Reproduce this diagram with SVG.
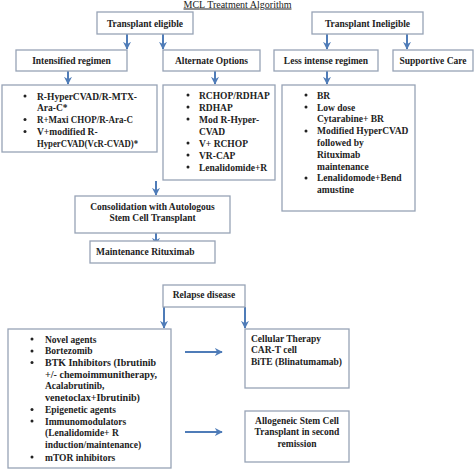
<svg xmlns="http://www.w3.org/2000/svg" width="474" height="470" viewBox="0 0 474 470">
<defs>
<marker id="ah" viewBox="0 0 10 10" refX="9" refY="5" markerWidth="4" markerHeight="4" orient="auto" markerUnits="strokeWidth">
<path d="M0,0 L10,5 L0,10 L3,5 Z" fill="#4f7cb8"/>
</marker>
<style>
.b{fill:#fff;stroke:#97a3b6;stroke-width:1.3}
.t{font-family:"Liberation Serif","DejaVu Serif",serif;font-weight:bold;font-size:9.5px;fill:#222}
.c{text-anchor:middle}
.d{fill:#222}
.a{fill:none;stroke:#4f7cb8;stroke-width:2;marker-end:url(#ah)}
</style>
</defs>
<rect width="474" height="470" fill="#fff"/>
<text x="237.5" y="7.5" font-family="Liberation Serif, serif" font-size="10" text-anchor="middle" fill="#222" text-decoration="underline">MCL Treatment Algorithm</text>

<g id="connectors">
<line class="a" x1="127" y1="34" x2="127" y2="49"/>
<line class="a" x1="163" y1="34" x2="163" y2="49"/>
<line class="a" x1="327" y1="34" x2="327" y2="49"/>
<line class="a" x1="407" y1="34" x2="407" y2="49"/>
<line class="a" x1="68" y1="71" x2="68" y2="84"/>
<line class="a" x1="215" y1="71" x2="215" y2="84"/>
<line class="a" x1="327" y1="71" x2="327" y2="84"/>
<line class="a" x1="156" y1="181" x2="156" y2="195"/>
<line class="a" x1="156" y1="233" x2="156" y2="245"/>
<line class="a" x1="164" y1="307" x2="164" y2="328"/>
<line class="a" x1="245" y1="307" x2="245" y2="328"/>
<line class="a" x1="185" y1="352" x2="222" y2="352"/>
<line class="a" x1="185" y1="432" x2="222" y2="432"/>
</g>

<g id="transplant-eligible">
<rect class="b" x="97" y="12" width="96" height="22"/>
<text class="t c" x="145" y="26.5">Transplant eligible</text>
</g>
<g id="transplant-ineligible">
<rect class="b" x="312" y="12" width="111" height="22"/>
<text class="t c" x="367.5" y="26.5">Transplant Ineligible</text>
</g>
<g id="intensified">
<rect class="b" x="16" y="50" width="111" height="21"/>
<text class="t c" x="71.5" y="64">Intensified regimen</text>
</g>
<g id="alternate">
<rect class="b" x="163" y="50" width="97" height="21"/>
<text class="t c" x="211.5" y="64">Alternate Options</text>
</g>
<g id="less-intense">
<rect class="b" x="274" y="50" width="104" height="21"/>
<text class="t c" x="326" y="64">Less intense regimen</text>
</g>
<g id="supportive">
<rect class="b" x="393" y="50" width="80" height="21"/>
<text class="t c" x="433" y="64">Supportive Care</text>
</g>

<g id="intensified-list">
<rect class="b" x="2" y="85" width="155" height="67"/>
<circle class="d" cx="25" cy="96" r="1.5"/>
<circle class="d" cx="25" cy="119.5" r="1.5"/>
<circle class="d" cx="25" cy="131.5" r="1.5"/>
<text class="t" x="37" y="99.5" textLength="100" lengthAdjust="spacingAndGlyphs">R-HyperCVAD/R-MTX-</text>
<text class="t" x="37" y="111.3">Ara-C*</text>
<text class="t" x="37" y="123" textLength="96" lengthAdjust="spacingAndGlyphs">R+Maxi CHOP/R-Ara-C</text>
<text class="t" x="37" y="135">V+modified R-</text>
<text class="t" x="37" y="146.8" textLength="101" lengthAdjust="spacingAndGlyphs">HyperCVAD(VcR-CVAD)*</text>
</g>

<g id="alternate-list">
<rect class="b" x="163" y="85" width="112" height="95"/>
<circle class="d" cx="188" cy="95" r="1.5"/>
<circle class="d" cx="188" cy="107" r="1.5"/>
<circle class="d" cx="188" cy="119" r="1.5"/>
<circle class="d" cx="188" cy="143" r="1.5"/>
<circle class="d" cx="188" cy="155" r="1.5"/>
<circle class="d" cx="188" cy="167" r="1.5"/>
<text class="t" x="199" y="98.5">RCHOP/RDHAP</text>
<text class="t" x="199" y="110.5">RDHAP</text>
<text class="t" x="199" y="122.5">Mod R-Hyper-</text>
<text class="t" x="199" y="134.5">CVAD</text>
<text class="t" x="199" y="146.5">V+ RCHOP</text>
<text class="t" x="199" y="158.5">VR-CAP</text>
<text class="t" x="199" y="170.5">Lenalidomide+R</text>
</g>

<g id="less-intense-list">
<rect class="b" x="282" y="85" width="133" height="126"/>
<circle class="d" cx="306" cy="95" r="1.5"/>
<circle class="d" cx="306" cy="107" r="1.5"/>
<circle class="d" cx="306" cy="131" r="1.5"/>
<circle class="d" cx="306" cy="178" r="1.5"/>
<text class="t" x="317" y="98.5">BR</text>
<text class="t" x="317" y="110.5">Low dose</text>
<text class="t" x="317" y="122.3">Cytarabine+ BR</text>
<text class="t" x="317" y="134.3">Modified HyperCVAD</text>
<text class="t" x="317" y="146">followed by</text>
<text class="t" x="317" y="157.7">Rituximab</text>
<text class="t" x="317" y="169.5">maintenance</text>
<text class="t" x="317" y="181.2">Lenalidomode+Bend</text>
<text class="t" x="317" y="193">amustine</text>
</g>

<g id="consolidation">
<rect class="b" x="75" y="196" width="155" height="37"/>
<text class="t c" x="152.5" y="209.5">Consolidation with Autologous</text>
<text class="t c" x="152.5" y="220.5">Stem Cell Transplant</text>
</g>
<g id="maintenance">
<rect class="b" x="90" y="241" width="125" height="22"/>
<text class="t" x="96" y="254.5">Maintenance Rituximab</text>
</g>

<g id="relapse">
<rect class="b" x="163" y="285" width="82" height="22"/>
<text class="t c" x="204" y="297.5">Relapse disease</text>
</g>

<g id="relapse-list">
<rect class="b" x="8" y="329" width="163" height="139"/>
<circle class="d" cx="32" cy="339" r="1.5"/>
<circle class="d" cx="32" cy="351" r="1.5"/>
<circle class="d" cx="32" cy="362.5" r="1.5"/>
<circle class="d" cx="32" cy="409.5" r="1.5"/>
<circle class="d" cx="32" cy="421" r="1.5"/>
<circle class="d" cx="32" cy="457" r="1.5"/>
<text class="t" x="45" y="342.5">Novel agents</text>
<text class="t" x="45" y="354.3">Bortezomib</text>
<text class="t" x="45" y="366" textLength="111" lengthAdjust="spacingAndGlyphs">BTK Inhibitors (Ibrutinib</text>
<text class="t" x="45" y="377.7" textLength="112" lengthAdjust="spacingAndGlyphs">+/- chemoimmunitherapy,</text>
<text class="t" x="45" y="389.4">Acalabrutinib,</text>
<text class="t" x="45" y="401" textLength="95" lengthAdjust="spacingAndGlyphs">venetoclax+Ibrutinib)</text>
<text class="t" x="45" y="413">Epigenetic agents</text>
<text class="t" x="45" y="424.7">Immunomodulators</text>
<text class="t" x="45" y="436.4">(Lenalidomide+ R</text>
<text class="t" x="45" y="448.1">induction/maintenance)</text>
<text class="t" x="45" y="460.5">mTOR inhibitors</text>
</g>

<g id="cellular">
<rect class="b" x="245" y="329" width="104" height="59"/>
<text class="t" x="251" y="341.5">Cellular Therapy</text>
<text class="t" x="251" y="353">CAR-T cell</text>
<text class="t" x="251" y="364.5" textLength="91" lengthAdjust="spacingAndGlyphs">BiTE (Blinatumamab)</text>
</g>
<g id="allogeneic">
<rect class="b" x="245" y="411" width="104" height="51"/>
<text class="t c" x="297" y="423.5">Allogeneic Stem Cell</text>
<text class="t c" x="297" y="435">Transplant in second</text>
<text class="t c" x="297" y="446.5">remission</text>
</g>
</svg>
